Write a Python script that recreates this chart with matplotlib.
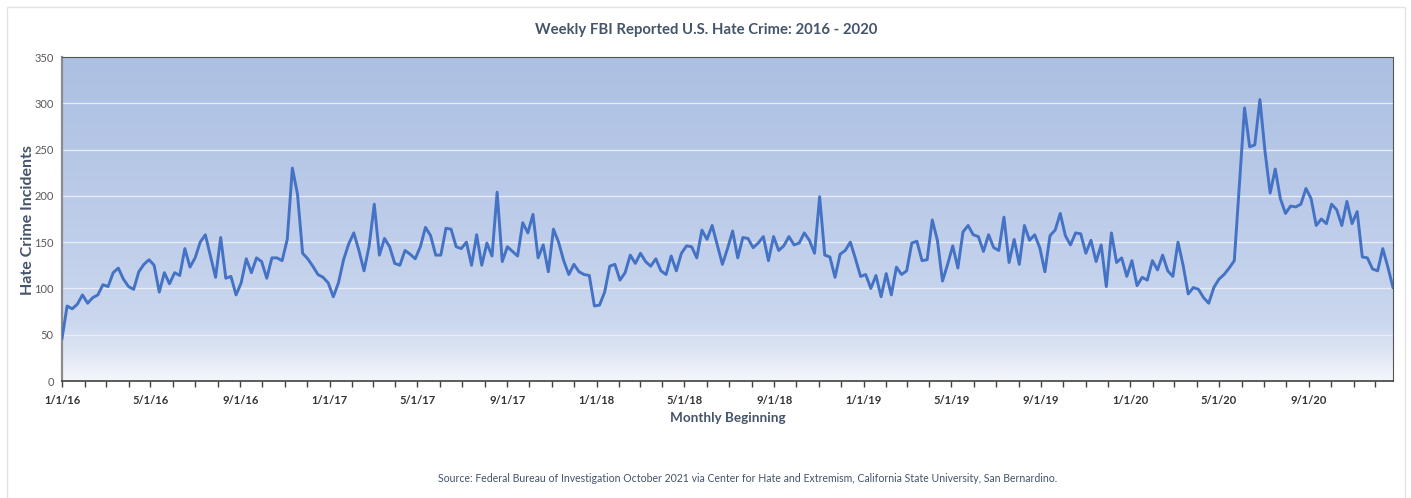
import numpy as np
import pandas as pd
import matplotlib
matplotlib.use("Agg")
import matplotlib.pyplot as plt
import matplotlib.dates as mdates
from matplotlib.colors import LinearSegmentedColormap
from matplotlib.patches import Rectangle

# weekly incident counts, weeks starting 1/1/16
incidents = [
    46, 81, 78, 83, 93, 84, 90, 93, 104, 102, 117, 122, 110, 102, 99, 118,
    126, 131, 125, 96, 117, 105, 117, 114, 143, 123, 133, 150, 158, 135, 112, 155,
    111, 113, 93, 106, 132, 117, 133, 129, 111, 133, 133, 130, 153, 230, 202, 138,
    132, 124, 115, 112, 106, 91, 106, 131, 148, 160, 141, 119, 146, 191, 136, 154,
    145, 127, 125, 141, 137, 132, 145, 166, 157, 136, 136, 165, 164, 145, 143, 150,
    125, 158, 125, 149, 135, 204, 129, 145, 140, 135, 171, 160, 180, 133, 147, 118,
    164, 150, 130, 115, 126, 118, 115, 114, 81, 82, 96, 124, 126, 109, 117, 136,
    127, 138, 129, 124, 132, 119, 115, 135, 119, 138, 146, 145, 133, 163, 153, 168,
    147, 126, 143, 162, 133, 155, 154, 144, 149, 156, 130, 156, 141, 146, 156, 147,
    149, 160, 152, 138, 199, 136, 134, 112, 137, 141, 150, 132, 113, 115, 100, 114,
    91, 116, 93, 123, 115, 119, 149, 151, 130, 131, 174, 152, 108, 126, 146, 122,
    161, 168, 158, 156, 140, 158, 144, 141, 177, 128, 153, 126, 168, 152, 158, 144,
    118, 157, 163, 181, 157, 147, 160, 159, 138, 152, 129, 147, 102, 160, 128, 133,
    113, 130, 103, 112, 109, 130, 120, 136, 119, 113, 150, 125, 94, 101, 99, 90,
    84, 101, 110, 115, 122, 130, 212, 295, 253, 255, 304, 248, 203, 229, 197, 181,
    189, 188, 191, 208, 197, 168, 175, 170, 191, 185, 168, 194, 170, 183, 134, 133,
    121, 119, 143, 123, 101,
]
weeks = pd.date_range("2016-01-01", periods=len(incidents), freq="7D")

title = "Weekly FBI Reported U.S. Hate Crime: 2016 - 2020"
x_title = "Monthly Beginning"
y_title = "Hate Crime Incidents"
source = ("Source: Federal Bureau of Investigation October 2021 via Center for Hate "
          "and Extremism, California State University, San Bernardino.")

plt.rcParams['font.family'] = ['Lato', 'DejaVu Sans']
text_col = "#44546A"

fig = plt.figure(figsize=(14.11, 4.98), dpi=100)
fig.patches.append(Rectangle((7/1411, -0.01), 1398/1411, 1 - 7/498 + 0.01,
                             transform=fig.transFigure, fill=False,
                             edgecolor="#e3e3e3", linewidth=1.0))
ax = fig.add_axes([62/1411, 1 - 381/498, 1331/1411, 324/498])

# blue gradient background, fading to white at the bottom
cmap = LinearSegmentedColormap.from_list("bg", [
    (0.0, "#f4f6fb"), (0.08, "#e0e7f4"), (0.18, "#cad7ee"),
    (0.5, "#bdcce9"), (1.0, "#acc0e3")])
grad = np.linspace(0, 1, 256).reshape(-1, 1)
ax.imshow(grad, cmap=cmap, origin="lower", extent=[0, 1, 0, 1],
          transform=ax.transAxes, aspect="auto", zorder=0)

for v in range(50, 350, 50):
    ax.axhline(v, color="#e8eef8", linewidth=0.9, zorder=1)

ax.plot(weeks, incidents, color="#4472C4", linewidth=2.1, zorder=3,
        solid_joinstyle="round")

ax.set_xlim(weeks[0], weeks[-1])
ax.set_ylim(0, 350)
ax.set_yticks(range(0, 351, 50))
ax.xaxis.set_major_locator(mdates.MonthLocator(bymonth=[1, 5, 9]))
ax.xaxis.set_minor_locator(mdates.MonthLocator())
ax.xaxis.set_major_formatter(
    matplotlib.ticker.FuncFormatter(
        lambda x, pos: "{0.month}/{0.day}/{1}".format(mdates.num2date(x),
                                                     mdates.num2date(x).year % 100)))
ax.tick_params(axis="x", which="both", direction="out", length=4, width=1,
               color="#404040", labelsize=8, labelcolor="#333333", pad=6)
ax.tick_params(axis="y", length=0, labelsize=8, labelcolor="#595959", pad=6)
for lab in ax.get_xticklabels():
    lab.set_fontweight("bold")

for side in ["top", "right"]:
    ax.spines[side].set_color("#555555")
    ax.spines[side].set_linewidth(0.8)
ax.spines["bottom"].set_color("#404040")
ax.spines["bottom"].set_linewidth(1.2)
ax.spines["left"].set_color("#8c8c8c")
ax.spines["left"].set_linewidth(1.6)

fig.text(706/1411, 1 - 30/498, title, ha="center", va="center",
         fontsize=10.7, fontweight="bold", color=text_col)
fig.text(28/1411, 1 - 220/498, y_title, ha="center", va="center",
         rotation=90, fontsize=11.5, fontweight="bold", color=text_col)
fig.text(728/1411, 1 - 418/498, x_title, ha="center", va="center",
         fontsize=9.7, fontweight="bold", color=text_col)
fig.text(748/1411, 1 - 478/498, source, ha="center", va="center",
         fontsize=7.6, color=text_col)

fig.savefig("out.png", dpi=100)
